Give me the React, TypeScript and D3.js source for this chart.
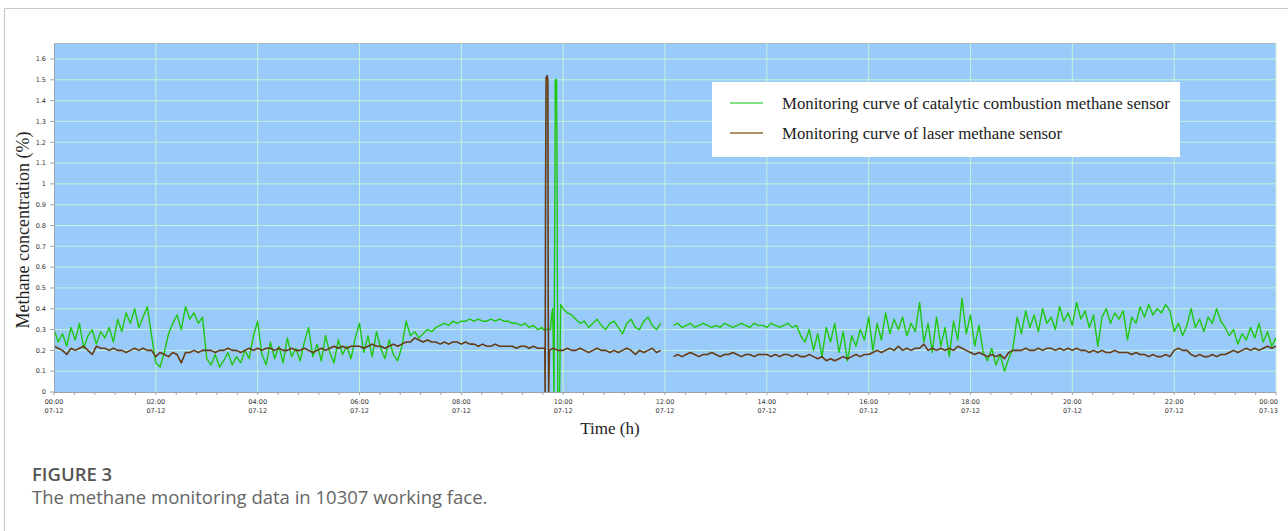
import * as d3 from "d3";

// 5-minute samples, 12 per hour, 00:00 (07-12) .. 00:00 (07-13)
const catalyticValues: (number | null)[] = [
  0.30, 0.24, 0.28, 0.22, 0.31, 0.25, 0.33, 0.21, 0.27, 0.30, 0.23, 0.29, // 00
  0.26, 0.31, 0.24, 0.35, 0.29, 0.38, 0.33, 0.40, 0.31, 0.36, 0.41, 0.27, // 01
  0.14, 0.12, 0.19, 0.28, 0.33, 0.37, 0.30, 0.41, 0.35, 0.38, 0.33, 0.36, // 02
  0.16, 0.13, 0.18, 0.12, 0.15, 0.19, 0.13, 0.17, 0.14, 0.20, 0.16, 0.27, // 03
  0.34, 0.18, 0.13, 0.24, 0.16, 0.22, 0.14, 0.26, 0.17, 0.21, 0.15, 0.24, // 04
  0.31, 0.17, 0.23, 0.15, 0.27, 0.19, 0.14, 0.25, 0.18, 0.22, 0.16, 0.26, // 05
  0.33, 0.19, 0.27, 0.17, 0.29, 0.21, 0.16, 0.25, 0.18, 0.15, 0.22, 0.34, // 06
  0.27, 0.29, 0.26, 0.28, 0.30, 0.29, 0.31, 0.32, 0.33, 0.32, 0.34, 0.33, // 07
  0.34, 0.34, 0.35, 0.34, 0.35, 0.34, 0.34, 0.35, 0.34, 0.35, 0.34, 0.34, // 08
  0.33, 0.33, 0.32, 0.33, 0.31, 0.32, 0.30, 0.31, 0.30, 0.31, 0.30, 0.31, // 09
  0.40, 0.38, 0.37, 0.35, 0.33, 0.34, 0.31, 0.33, 0.35, 0.32, 0.30, 0.33, // 10
  0.34, 0.31, 0.28, 0.33, 0.35, 0.31, 0.30, 0.34, 0.36, 0.32, 0.30, 0.33, // 11
  null, null, 0.32, 0.33, 0.31, 0.32, 0.33, 0.31, 0.32, 0.33, 0.32, 0.31, // 12
  0.32, 0.31, 0.33, 0.32, 0.31, 0.32, 0.33, 0.32, 0.31, 0.33, 0.32, 0.32, // 13
  0.31, 0.33, 0.32, 0.31, 0.32, 0.33, 0.31, 0.32, 0.27, 0.24, 0.30, 0.20, // 14
  0.28, 0.17, 0.31, 0.24, 0.33, 0.19, 0.29, 0.15, 0.27, 0.22, 0.30, 0.25, // 15
  0.36, 0.20, 0.33, 0.25, 0.38, 0.28, 0.35, 0.30, 0.36, 0.27, 0.33, 0.29, // 16
  0.43, 0.24, 0.33, 0.19, 0.36, 0.22, 0.31, 0.17, 0.34, 0.25, 0.45, 0.28, // 17
  0.37, 0.22, 0.32, 0.19, 0.15, 0.21, 0.13, 0.18, 0.10, 0.16, 0.21, 0.36, // 18
  0.28, 0.39, 0.31, 0.37, 0.29, 0.40, 0.33, 0.36, 0.30, 0.41, 0.34, 0.38, // 19
  0.32, 0.43, 0.35, 0.39, 0.31, 0.37, 0.22, 0.36, 0.40, 0.33, 0.38, 0.35, // 20
  0.39, 0.25, 0.36, 0.33, 0.41, 0.36, 0.42, 0.37, 0.40, 0.38, 0.42, 0.39, // 21
  0.29, 0.33, 0.27, 0.32, 0.40, 0.31, 0.35, 0.29, 0.36, 0.33, 0.40, 0.34, // 22
  0.31, 0.27, 0.30, 0.23, 0.28, 0.25, 0.31, 0.26, 0.33, 0.24, 0.29, 0.22, // 23
  0.26,
];

const laserValues: (number | null)[] = [
  0.22, 0.21, 0.20, 0.18, 0.21, 0.20, 0.21, 0.22, 0.20, 0.18, 0.22, 0.21, // 00
  0.21, 0.20, 0.21, 0.20, 0.20, 0.19, 0.20, 0.21, 0.20, 0.21, 0.20, 0.20, // 01
  0.17, 0.19, 0.18, 0.17, 0.19, 0.18, 0.14, 0.19, 0.19, 0.20, 0.19, 0.20, // 02
  0.20, 0.20, 0.19, 0.20, 0.20, 0.21, 0.20, 0.20, 0.19, 0.20, 0.21, 0.20, // 03
  0.21, 0.20, 0.21, 0.21, 0.20, 0.21, 0.20, 0.20, 0.21, 0.20, 0.20, 0.21, // 04
  0.20, 0.19, 0.20, 0.21, 0.20, 0.21, 0.22, 0.21, 0.22, 0.21, 0.22, 0.22, // 05
  0.22, 0.21, 0.22, 0.23, 0.22, 0.22, 0.21, 0.22, 0.23, 0.22, 0.23, 0.24, // 06
  0.24, 0.26, 0.25, 0.24, 0.25, 0.24, 0.24, 0.23, 0.24, 0.23, 0.24, 0.24, // 07
  0.23, 0.24, 0.23, 0.23, 0.22, 0.23, 0.22, 0.22, 0.23, 0.22, 0.22, 0.22, // 08
  0.22, 0.21, 0.22, 0.22, 0.21, 0.22, 0.21, 0.21, 0.22, 0.21, 0.21, 0.21, // 09
  0.20, 0.21, 0.20, 0.20, 0.21, 0.20, 0.19, 0.20, 0.21, 0.20, 0.20, 0.19, // 10
  0.20, 0.19, 0.20, 0.21, 0.20, 0.18, 0.20, 0.19, 0.20, 0.21, 0.19, 0.20, // 11
  null, null, 0.17, 0.18, 0.17, 0.18, 0.19, 0.18, 0.17, 0.18, 0.18, 0.19, // 12
  0.18, 0.17, 0.18, 0.18, 0.19, 0.18, 0.17, 0.18, 0.18, 0.17, 0.18, 0.18, // 13
  0.18, 0.17, 0.18, 0.17, 0.18, 0.18, 0.17, 0.18, 0.17, 0.17, 0.18, 0.17, // 14
  0.16, 0.17, 0.15, 0.16, 0.15, 0.16, 0.17, 0.16, 0.17, 0.18, 0.17, 0.18, // 15
  0.18, 0.19, 0.20, 0.19, 0.20, 0.21, 0.20, 0.22, 0.20, 0.21, 0.20, 0.21, // 16
  0.21, 0.23, 0.20, 0.21, 0.20, 0.21, 0.20, 0.21, 0.20, 0.22, 0.21, 0.20, // 17
  0.19, 0.18, 0.19, 0.18, 0.17, 0.18, 0.17, 0.18, 0.16, 0.19, 0.20, 0.20, // 18
  0.20, 0.21, 0.20, 0.20, 0.21, 0.20, 0.21, 0.21, 0.20, 0.21, 0.20, 0.21, // 19
  0.20, 0.21, 0.20, 0.20, 0.19, 0.20, 0.19, 0.20, 0.19, 0.19, 0.20, 0.19, // 20
  0.19, 0.19, 0.18, 0.19, 0.18, 0.18, 0.17, 0.18, 0.17, 0.17, 0.18, 0.17, // 21
  0.20, 0.21, 0.20, 0.20, 0.18, 0.17, 0.18, 0.17, 0.17, 0.18, 0.17, 0.18, // 22
  0.18, 0.19, 0.20, 0.19, 0.20, 0.21, 0.20, 0.21, 0.20, 0.21, 0.22, 0.21, // 23
  0.22,
];

// finer readings around the ~09:40 spike: [hour, value]
const catalyticSpike: [number, number][] = [
  [9.6, 0.3], [9.68, 0.3], [9.75, 0.3], [9.77, 0.36], [9.79, 0.4], [9.8, 0.32],
  [9.82, 0], [9.845, 1.5], [9.87, 1.5], [9.88, 0.97], [9.895, 0], [9.93, 0],
  [9.95, 0.42], [9.98, 0.41],
];
const laserSpike: [number, number][] = [
  [9.6, 0.21], [9.64, 0.21], [9.645, 0], [9.655, 0.96], [9.665, 1.51],
  [9.685, 1.52], [9.7, 1.5], [9.705, 0.47], [9.715, 0], [9.73, 0.2],
  [9.8, 0.21], [9.9, 0.2], [9.98, 0.2],
];

const yTicks = [0, 0.1, 0.2, 0.3, 0.4, 0.5, 0.6, 0.7, 0.8, 0.9, 1, 1.1, 1.2, 1.3, 1.4, 1.5, 1.6];
const xTickHours = [0, 2, 4, 6, 8, 10, 12, 14, 16, 18, 20, 22, 24];
const xTickTimes = ["00:00", "02:00", "04:00", "06:00", "08:00", "10:00", "12:00", "14:00", "16:00", "18:00", "20:00", "22:00", "00:00"];
const xTickDates = ["07-12", "07-12", "07-12", "07-12", "07-12", "07-12", "07-12", "07-12", "07-12", "07-12", "07-12", "07-12", "07-13"];

const legendItems = [
  { label: "Monitoring curve of catalytic combustion methane sensor", color: "#5ad65a" },
  { label: "Monitoring curve of laser methane sensor", color: "#8f6a35" },
];

type Pt = { h: number; v: number | null };

function buildSeries(values: (number | null)[], spike: [number, number][]): Pt[] {
  const lo = spike[0][0];
  const hi = spike[spike.length - 1][0];
  const base = values
    .map((v, i) => ({ h: i / 12, v }))
    .filter((d) => d.h < lo || d.h > hi);
  return [...base, ...spike.map(([h, v]) => ({ h, v }))].sort((a, b) => a.h - b.h);
}

const W = 1288;
const H = 531;
const left = 54;
const right = 1276;
const top = 43;
const bottom = 392;

const App = () => {
  const x = d3.scaleLinear().domain([0, 24]).range([left, right]);
  const y = d3.scaleLinear().domain([0, 1.6]).range([bottom, 59]);

  const line = d3
    .line<Pt>()
    .defined((d) => d.v !== null)
    .x((d) => x(d.h))
    .y((d) => y(d.v as number));

  const catalytic = buildSeries(catalyticValues, catalyticSpike);
  const laser = buildSeries(laserValues, laserSpike);
  const minorTicks = d3.range(0, 24.001, 0.4);
  const serif = "'Liberation Serif', 'Times New Roman', serif";
  const tickFont = "'DejaVu Sans', Tahoma, sans-serif";
  const sans = "'Open Sans', 'Noto Sans', sans-serif";
  const grid = "#c4f2d8";

  return (
    <div style={{ position: "absolute", left: 0, top: 0, background: "#fff" }}>
      <svg width={W} height={H} style={{ display: "block" }}>
        <defs>
          <clipPath id="plot-clip">
            <rect x={left} y={top} width={right - left} height={bottom - top} />
          </clipPath>
        </defs>

        {/* card frame */}
        <line x1={4.5} x2={W} y1={8.5} y2={8.5} stroke="#c8c8c8" />
        <line x1={4.5} x2={4.5} y1={8.5} y2={H} stroke="#c8c8c8" />

        {/* plot background */}
        <rect x={left} y={top} width={right - left} height={bottom - top} fill="#98cafa" />
        <line x1={left} x2={right} y1={top + 0.5} y2={top + 0.5} stroke="#a8b8c8" />

        {/* grid */}
        {yTicks.slice(1).map((t) => (
          <line key={"gy" + t} x1={left} x2={right} y1={y(t)} y2={y(t)} stroke={grid} strokeWidth={1} />
        ))}
        {xTickHours.slice(1).map((h) => (
          <line key={"gx" + h} x1={x(h)} x2={x(h)} y1={top} y2={bottom} stroke={grid} strokeWidth={1} />
        ))}

        {/* data */}
        <g clipPath="url(#plot-clip)" fill="none" strokeLinejoin="round">
          <path d={line(catalytic) ?? ""} stroke="#1fc80f" strokeWidth={1.4} />
          <path d={line(laser) ?? ""} stroke="#663a12" strokeWidth={1.6} />
        </g>

        {/* axes */}
        <line x1={left + 0.5} x2={left + 0.5} y1={top} y2={bottom} stroke="#9aa4ae" />
        <line x1={left} x2={right} y1={bottom + 0.5} y2={bottom + 0.5} stroke="#9aa4ae" />

        {yTicks.map((t) => (
          <g key={"yt" + t} transform={`translate(0,${y(t)})`}>
            <line x1={left - 4} x2={left} stroke="#9aa4ae" />
            <text x={left - 8} dy="0.35em" textAnchor="end" fontFamily={tickFont} fontSize={6.5} fill="#333">
              {t}
            </text>
          </g>
        ))}

        {minorTicks.map((h) => (
          <line key={"mt" + h} x1={x(h)} x2={x(h)} y1={bottom} y2={bottom + 3} stroke="#9aa4ae" />
        ))}

        {xTickHours.map((h, i) => {
          const last = i === xTickHours.length - 1;
          const tx = last ? x(h) + 2 : x(h);
          return (
            <text
              key={"xt" + i}
              x={tx}
              textAnchor={last ? "end" : "middle"}
              fontFamily={tickFont}
              fontSize={6.5}
              fill="#333"
            >
              <tspan x={tx} y={404}>{xTickTimes[i]}</tspan>
              <tspan x={tx} y={413}>{xTickDates[i]}</tspan>
            </text>
          );
        })}

        {/* axis titles */}
        <text
          transform={`translate(29,230) rotate(-90)`}
          textAnchor="middle"
          fontFamily={serif}
          fontSize={18}
          fill="#222"
        >
          Methane concentration (%)
        </text>
        <text x={610} y={434} textAnchor="middle" fontFamily={serif} fontSize={17} fill="#222">
          Time (h)
        </text>

        {/* legend */}
        <rect x={712} y={82} width={468} height={75} fill="#fff" />
        {legendItems.map((d, i) => (
          <g key={d.label} transform={`translate(0,${103 + i * 30})`}>
            <line x1={730} x2={763} stroke={d.color} strokeWidth={1.5} />
            <text x={782} dy="0.33em" fontFamily={serif} fontSize={16.8} fill="#222">
              {d.label}
            </text>
          </g>
        ))}

        {/* caption */}
        <text x={32} y={481} fontFamily={sans} fontSize={18.5} fontWeight={600} fill="#555">
          FIGURE 3
        </text>
        <text x={32} y={504} fontFamily={sans} fontSize={18.5} fill="#666">
          The methane monitoring data in 10307 working face.
        </text>
      </svg>
    </div>
  );
};

export default App;
